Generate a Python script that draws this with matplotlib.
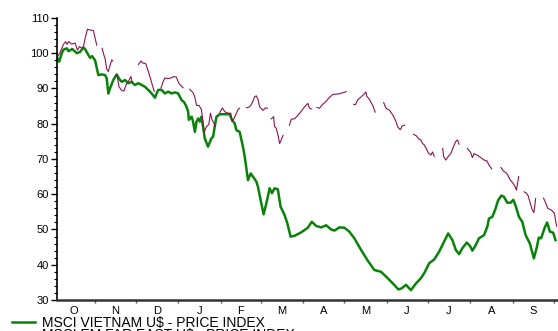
import numpy as np
import matplotlib
matplotlib.use("Agg")
import matplotlib.pyplot as plt
from matplotlib.ticker import FixedLocator, NullFormatter, MultipleLocator

# Days counted from 1 October; price indices rebased to 100
vn_day = [3.4, 4.9, 6.8, 8.0, 10.5, 11.7, 14.4, 17.8, 20.2, 22.6, 23.8, 26.2, 27.5, 28.9,
          31.1, 33.5, 36.0, 38.4, 39.6, 40.8, 42.0, 44.4, 46.9, 49.3, 50.6, 53.0, 55.4,
          57.8, 60.2, 62.7, 65.1, 67.5, 69.9, 72.4, 74.8, 77.2, 79.7, 82.1, 84.5, 87.0,
          89.4, 91.8, 94.3, 96.2, 97.9, 99.1, 99.6, 101.6, 102.7, 104.0, 105.2, 106.4,
          107.6, 108.8, 110.0, 111.2, 113.6, 116.1, 117.3, 118.5, 119.8, 122.2, 125.8,
          129.4, 131.1, 133.1, 134.3, 136.7, 138.0, 139.1, 140.4, 141.6, 142.8, 144.8,
          146.4, 148.9, 150.1, 152.0, 154.2, 156.2, 158.6, 160.3, 162.2, 164.6, 166.6,
          169.5, 171.5, 173.9, 176.8, 181.7, 186.5, 189.4, 192.6, 196.3, 199.9, 203.5,
          205.9, 209.6, 213.2, 216.8, 220.5, 225.4, 230.2, 235.1, 240.0, 244.8, 249.6,
          252.6, 255.0, 258.2, 261.8, 265.5, 269.1, 271.5, 275.1, 278.8, 282.4, 286.0,
          289.0, 292.1, 294.6, 297.0, 299.4, 302.6, 305.0, 306.7, 309.2, 311.5, 315.2,
          317.6, 318.8, 321.3, 323.7, 325.4, 327.8, 329.7, 332.2, 334.6, 336.6, 338.3,
          340.7, 343.1, 345.6, 348.7, 351.6, 353.6, 355.2, 356.9, 359.4, 361.3, 363.3,
          365.7, 367.4]
vn_value = [98.7, 97.6, 100.0, 101.0, 101.4, 100.6, 101.2, 100.0, 100.4, 101.6, 101.2, 99.5,
            98.7, 99.2, 98.0, 93.8, 94.0, 93.8, 92.9, 88.6, 90.0, 92.4, 94.0, 92.4, 91.9,
            92.4, 91.5, 91.9, 91.0, 91.5, 91.0, 90.5, 89.6, 88.6, 87.4, 89.6, 89.6, 88.6,
            89.1, 88.6, 88.9, 88.6, 86.7, 86.1, 84.8, 83.4, 81.1, 82.0, 80.6, 77.7, 80.6,
            81.5, 80.6, 82.0, 79.2, 75.9, 73.5, 75.9, 76.3, 79.2, 82.0, 82.7, 82.7, 82.7,
            81.1, 80.1, 78.2, 77.7, 75.4, 73.5, 70.7, 67.4, 64.0, 65.9, 65.0, 63.6, 62.1,
            58.4, 54.3, 57.4, 61.7, 60.3, 61.7, 61.4, 56.5, 54.1, 51.8, 48.0, 48.2, 49.2,
            50.5, 52.2, 51.0, 50.6, 51.2, 50.0, 49.7, 50.6, 50.5, 49.4, 47.5, 44.2, 41.2,
            38.5, 38.0, 36.2, 34.3, 33.0, 33.3, 34.3, 32.8, 34.7, 36.2, 37.6, 40.4, 41.5,
            43.7, 46.5, 48.9, 47.0, 44.2, 43.0, 44.7, 46.3, 45.3, 44.0, 45.6, 47.5, 48.4,
            50.8, 53.1, 53.6, 56.0, 58.2, 59.6, 59.3, 57.6, 57.6, 58.4, 56.7, 53.6, 52.2,
            48.4, 46.0, 41.8, 44.7, 47.7, 47.5, 50.4, 52.0, 49.4, 49.1, 47.0]

# Far East series has missing stretches (NaN breaks the line)
nan = np.nan
em_day = [3.6, 5.6, 8.0, 9.6, 10.7, 11.7, 14.1, 16.5, 18.2, 19.7, 21.4, 22.7, 23.8, 25.5,
          27.5, 29.9, 30.6, 32.3, nan,
          36.2, 37.7, 38.4, 39.6, 40.8, 42.0, 43.3, 44.0, nan,
          45.7, 47.1, 48.6, 50.6, 52.2, 53.7, 55.4, 57.3, 58.0, nan,
          62.8, 64.6, 66.1, 68.0, 69.9, 72.4, 74.3, nan,
          79.2, 80.9, 82.1, 84.3, 86.5, 88.9, 90.5, 92.3, 93.8, 95.4, nan,
          100.3, 102.7, 104.0, 105.2, 107.1, 108.8, 109.3, 110.7, 112.5, 114.2, 115.4,
          116.6, 118.0, 119.0, nan,
          122.2, 124.1, 125.8, 128.3, 130.2, 131.1, 132.6, 134.3, 135.5, 136.7, nan,
          141.6, 144.0, 145.7, 147.7, 148.9, 150.1, 151.3, 153.8, 155.5, 157.0, nan,
          159.8, 161.5, 162.2, 163.3, 164.6, 165.9, 167.1, 168.4, nan,
          173.1, 174.4, 176.8, 179.2, 182.4, 184.1, 186.5, 187.7, 189.0, nan,
          193.2, 195.0, 197.4, 199.9, 202.3, 204.7, 207.4, 209.6, 212.0, 214.5, nan,
          220.0, 221.3, 222.9, 225.4, 227.8, 228.9, 229.6, 231.4, 233.9, 235.7, nan,
          241.9, 243.6, 246.0, 248.9, 250.9, 252.2, 254.0, 255.5, 257.3, nan,
          263.6, 265.7, 267.8, 269.1, 270.3, 271.5, 273.0, 274.4, 276.4, 277.6, 278.8, nan,
          285.0, 285.7, 287.3, 289.0, 291.0, 292.9, 294.6, 295.8, 297.0, nan,
          303.1, 305.5, 306.7, 307.9, 310.3, 312.8, 315.2, 317.2, 318.8, 320.8, nan,
          327.6, 329.3, 330.9, 332.2, 334.1, 335.8, 337.6, 338.9, 340.0, 340.5, nan,
          344.5, 346.1, 347.4, 348.9, 350.2, 351.6, 352.2, 352.9, nan,
          358.7, 360.4, 361.8, 364.4, 366.6, 367.7, 368.4]
em_value = [99.0, 100.2, 102.5, 103.3, 102.5, 103.3, 102.6, 102.9, 100.9, 101.9, 101.4, 102.0,
            104.2, 106.8, 106.6, 106.4, 105.2, 102.3, nan,
            101.4, 99.3, 98.5, 95.5, 94.8, 96.5, 98.1, 97.8, nan,
            93.5, 93.8, 90.5, 89.4, 89.3, 91.0, 92.0, 93.4, 92.0, nan,
            96.8, 97.8, 97.2, 97.1, 95.0, 91.7, 89.2, nan,
            90.1, 92.0, 93.0, 92.8, 93.0, 93.4, 93.2, 91.5, 90.8, 90.2, nan,
            89.8, 88.8, 87.5, 85.2, 85.2, 84.0, 82.5, 77.5, 79.2, 79.8, 83.0, 81.1, 80.1,
            79.2, nan,
            83.2, 84.5, 83.4, 83.0, 83.0, 80.6, 81.5, 83.0, 84.0, 84.4, nan,
            84.5, 84.8, 85.8, 87.7, 87.9, 86.9, 84.8, 83.8, 84.5, 84.4, nan,
            81.4, 82.0, 79.2, 78.8, 77.0, 74.4, 75.4, 76.7, nan,
            79.6, 81.3, 81.4, 82.4, 83.9, 84.8, 85.8, 84.4, 84.2, nan,
            84.6, 84.4, 85.5, 86.4, 87.5, 88.3, 88.4, 88.5, 88.8, 89.1, nan,
            85.5, 85.4, 86.8, 87.6, 88.5, 89.0, 87.8, 87.0, 85.2, 83.3, nan,
            86.0, 84.4, 83.9, 82.3, 80.6, 79.1, 78.3, 79.4, 79.6, nan,
            77.0, 76.6, 75.6, 75.4, 74.4, 74.0, 73.0, 71.8, 71.1, 72.0, 70.8, nan,
            73.0, 70.7, 69.7, 70.7, 71.6, 73.5, 75.0, 75.4, 74.2, nan,
            73.0, 71.8, 70.4, 71.5, 71.1, 70.4, 69.7, 69.5, 68.3, 67.2, nan,
            67.6, 66.6, 66.2, 65.7, 64.2, 63.4, 62.4, 61.2, 63.8, 65.0, nan,
            60.7, 60.3, 59.6, 57.6, 55.8, 54.8, 56.5, 58.8, nan,
            58.9, 57.4, 56.0, 55.5, 54.6, 52.0, 50.8]

month_starts = [0, 31, 61, 92, 123, 152, 183, 213, 244, 274, 305, 336, 366]
month_labels = ["O", "N", "D", "J", "F", "M", "A", "M", "J", "J", "A", "S"]

label_names = ["MSCI VIETNAM U$ - PRICE INDEX", "MSCI EM FAR EAST U$ - PRICE INDEX"]
vn_color = "#0a820a"
em_color = "#8c1450"

plt.rcParams["font.family"] = ["Liberation Sans", "DejaVu Sans"]

fig = plt.figure(figsize=(5.58, 3.31), dpi=100)
ax = fig.add_axes([57 / 558, 31 / 331, 500 / 558, 282 / 331])

l1, = ax.plot(vn_day, vn_value, color=vn_color, lw=1.8, solid_joinstyle="round")
l2, = ax.plot(em_day, em_value, color=em_color, lw=0.8)

ax.set_xlim(3.3, 368.5)
ax.set_ylim(30, 110)

for s in ("top", "right"):
    ax.spines[s].set_visible(False)
ax.spines["left"].set_linewidth(1.2)
ax.spines["bottom"].set_linewidth(1.8)
ax.spines["bottom"].set_color("#333333")

ax.yaxis.set_major_locator(MultipleLocator(10))
ax.yaxis.set_minor_locator(MultipleLocator(2))
ax.tick_params(axis="y", which="major", length=4, width=1, labelsize=8, pad=2)
ax.tick_params(axis="y", which="minor", length=2.5, width=0.8)

mids = [(a + b) / 2 for a, b in zip(month_starts[:-1], month_starts[1:])]
ax.xaxis.set_major_locator(FixedLocator(month_starts))
ax.xaxis.set_major_formatter(NullFormatter())
ax.xaxis.set_minor_locator(FixedLocator(mids))
ax.set_xticklabels(month_labels, minor=True)
ax.tick_params(axis="x", which="major", length=2.5, width=1, color="#555555")
ax.tick_params(axis="x", which="minor", length=0, labelsize=8, pad=4)

fig.legend([l1, l2], label_names, loc="upper left", bbox_to_anchor=(12 / 558, 15.5 / 331),
           frameon=False, fontsize=10, handlelength=1.65, handletextpad=0.5,
           labelspacing=-0.12, borderaxespad=0, borderpad=0)

fig.savefig("out.png", dpi=100)
